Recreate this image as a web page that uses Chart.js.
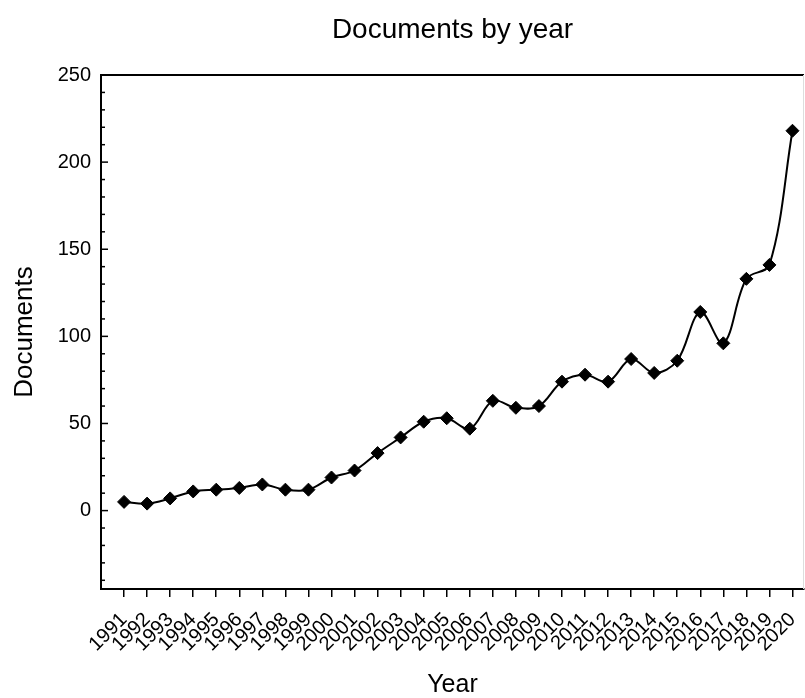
<!DOCTYPE html>
<html>
<head>
<meta charset="utf-8">
<script src="https://cdn.jsdelivr.net/npm/chart.js@4/dist/chart.umd.min.js"></script>
<style>
  body { margin: 0; background: #fff; }
  canvas { display: block; }
</style>
</head>
<body>
<canvas id="documentsChart" width="805" height="698"></canvas>
<script>
// ===========================
// Données
// ===========================
const annees = [1991, 1992, 1993, 1994, 1995, 1996, 1997, 1998, 1999, 2000,
                2001, 2002, 2003, 2004, 2005, 2006, 2007, 2008, 2009, 2010,
                2011, 2012, 2013, 2014, 2015, 2016, 2017, 2018, 2019, 2020];
const documents = [5, 4, 7, 11, 12, 13, 15, 12, 12, 19,
                   23, 33, 42, 51, 53, 47, 63, 59, 60, 74,
                   78, 74, 87, 79, 86, 114, 96, 133, 141, 218];
const yTicks = [0, 50, 100, 150, 200, 250];

const POLICE = '"Liberation Sans", Arial, sans-serif';

// ===========================
// Cadre + petites graduations vers l'intérieur (axe Y)
// ===========================
const cadrePlugin = {
    id: 'cadre',
    afterDraw(chart) {
        const { ctx, chartArea: a, scales: { y } } = chart;
        ctx.save();
        ctx.strokeStyle = '#000';
        ctx.lineWidth = 1.5;
        for (let v = -40; v <= 250; v += 10) {
            const py = y.getPixelForValue(v);
            const longueur = v % 50 === 0 ? 7 : 4;
            ctx.beginPath();
            ctx.moveTo(a.left, py);
            ctx.lineTo(a.left + longueur, py);
            ctx.stroke();
        }
        // ligne du haut
        ctx.lineWidth = 2;
        ctx.beginPath();
        ctx.moveTo(a.left, a.top);
        ctx.lineTo(a.right, a.top);
        ctx.stroke();
        // bord droit, très pâle
        ctx.strokeStyle = '#ddd';
        ctx.lineWidth = 1;
        ctx.beginPath();
        ctx.moveTo(a.right - 0.5, a.top);
        ctx.lineTo(a.right - 0.5, a.bottom);
        ctx.stroke();
        ctx.restore();
    }
};

// ===========================
// Graphique : Documents par année
// ===========================
const ctx = document.getElementById('documentsChart').getContext('2d');
const documentsChart = new Chart(ctx, {
    type: 'line',
    data: {
        datasets: [{
            label: 'Documents',
            data: annees.map((an, i) => ({ x: an, y: documents[i] })),
            borderColor: '#000',
            backgroundColor: '#000',
            borderWidth: 2,
            tension: 0.35,
            pointStyle: 'rectRot',
            pointRadius: 6.5,
            pointBorderWidth: 1,
            fill: false
        }]
    },
    options: {
        responsive: false,
        animation: false,
        layout: { autoPadding: false, padding: { left: 0, right: 1, top: 0, bottom: 0 } },
        plugins: {
            legend: { display: false },
            tooltip: { enabled: false },
            title: {
                display: true,
                fullSize: false,
                text: 'Documents by year',
                color: '#000',
                font: { family: POLICE, size: 28, weight: 'normal' },
                padding: { top: 13, bottom: 28.4 }
            }
        },
        scales: {
            x: {
                type: 'linear',
                min: 1990,
                max: 2020.5,
                afterBuildTicks: s => { s.ticks = annees.map(v => ({ value: v })); },
                afterFit: s => { s.height = 109; s.paddingLeft = 0; s.paddingRight = 0; },
                border: { display: true, color: '#000', width: 2 },
                grid: { drawOnChartArea: false, drawTicks: true, tickLength: 8, color: '#000', lineWidth: 1.5 },
                ticks: {
                    autoSkip: false,
                    minRotation: 45,
                    maxRotation: 45,
                    padding: 11,
                    color: '#000',
                    font: { family: POLICE, size: 20 },
                    callback: v => String(v)
                },
                title: {
                    display: true,
                    text: 'Year',
                    color: '#000',
                    font: { family: POLICE, size: 25, lineHeight: 1 },
                    padding: { top: 0, bottom: 0 }
                }
            },
            y: {
                min: -45,
                max: 250,
                afterBuildTicks: s => { s.ticks = yTicks.map(v => ({ value: v })); },
                afterFit: s => { s.width = 101; },
                border: { display: true, color: '#000', width: 2 },
                grid: { display: false, drawTicks: false },
                ticks: {
                    padding: 10,
                    color: '#000',
                    font: { family: POLICE, size: 20 }
                },
                title: {
                    display: true,
                    text: 'Documents',
                    color: '#000',
                    font: { family: POLICE, size: 26, lineHeight: 1 },
                    padding: { top: 12, bottom: 0 }
                }
            }
        }
    },
    plugins: [cadrePlugin]
});
</script>
</body>
</html>
